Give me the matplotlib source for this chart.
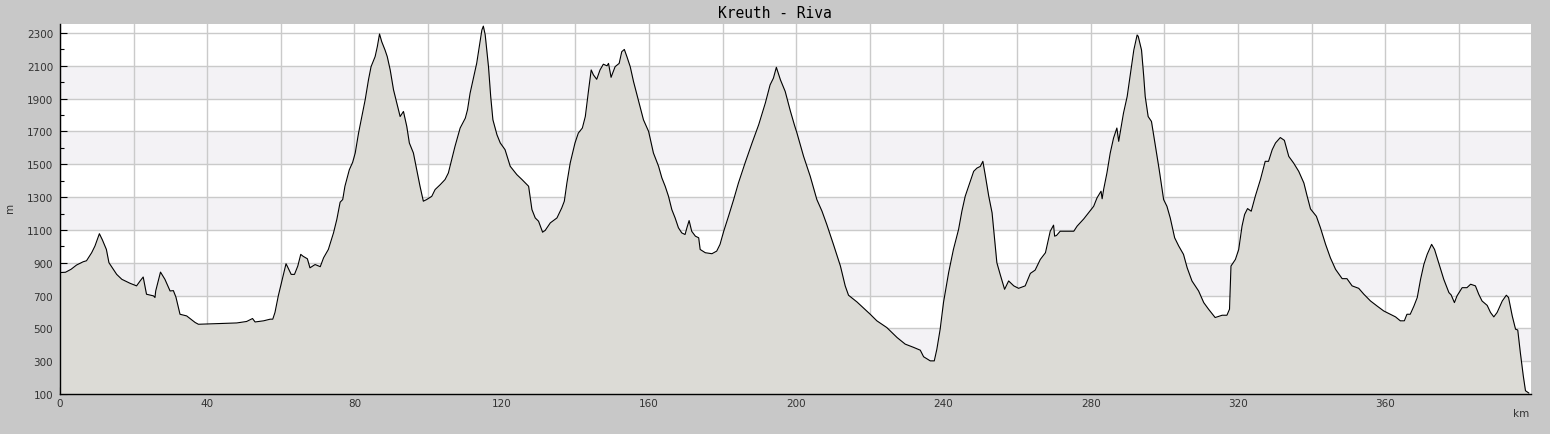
import matplotlib
matplotlib.use("Agg")
import matplotlib.pyplot as plt
from matplotlib.ticker import MultipleLocator, FuncFormatter

title = "Kreuth - Riva"
x_label = "km"
y_label = "m"

km = [0, 1.5, 3, 4.5, 6.3, 7.2, 8.6, 9.5, 10.7, 11.5, 12.2, 12.6, 13.3, 15.4, 16.8, 19.0, 20.8, 21.8, 22.6,
      23.5, 25.4, 25.8, 26.0, 27.3, 28.5, 29.9, 30.8, 31.5, 32.6, 34.4, 36.7, 37.6, 43.9, 48, 50.7, 52.3, 53,
      55.3, 57.1, 57.8, 58.4, 59.3, 60.5, 61.4, 61.8, 62.8, 63.7, 64.6, 65.4,
      66, 67.2, 67.9, 69.3, 70.7, 71.6, 72.9, 74.3, 75.2, 76.1, 76.8, 77.4, 78.6, 79.5, 80.2, 81.1, 82.0,
      82.9, 83.8, 84.5, 85.6, 86.2, 86.8, 87.4, 88.3, 88.9, 89.7, 90.6, 91.5, 92.4, 93.3, 94.2, 94.9, 96.0,
      96.9, 97.8, 98.7, 99.6, 101, 101.9, 103.3, 104.6, 105.5, 106.4, 107.3, 108.7, 110.1, 110.7, 111.4,
      112.3, 113.2, 113.9, 114.6, 115.0, 115.5, 116.4, 117.0, 117.6, 118.7, 119.6, 120.9, 122.3, 124.1,
      125.5, 127.3, 128.2, 129.1, 130.0, 131.1,
      131.8, 133.2, 135.0, 136.3, 137.0, 137.7, 138.6, 139.9, 140.8, 141.9, 142.7, 143.6, 144.3, 144.9,
      145.8, 146.7, 147.6, 148.6, 149.0, 149.7, 150.8, 151.9, 152.6, 153.3, 154.0, 154.9, 155.8, 157.1,
      158.5, 159.9, 161.2, 162.6, 163.5, 164.4, 165.3, 166.2, 167.1, 168.0, 168.9, 169.8, 170.3, 170.9,
      171.6, 172.6, 173.5, 173.9, 175.3, 177.1, 178.4, 179.3, 180.3, 181.6, 183.0, 184.3, 186.1, 188.0,
      189.8, 191.6, 192.9, 193.8, 194.6, 195.7, 197.0, 198.4, 199.5,
      200.2, 202.0, 203.8, 205.6, 207.0, 208.3, 210.1, 212.0, 213.3, 214.2, 216.5, 220.1, 221.9, 224.6,
      227.4, 229.6, 231.9, 233.7, 234.6, 236.4, 237.5, 238.2, 239.1, 240.0, 241.4, 242.7, 244.1, 245.0,
      245.9, 247.3, 248.2, 249.1, 250.0, 250.7, 251.4, 252.3, 253.2, 253.8, 254.5, 255.4, 256.6, 257.7,
      259.1, 260.4, 262.2, 263.6, 264.9, 266.3, 267.7, 269.0, 269.9, 270.2, 270.7, 271.7, 275.4, 276.3,
      278.1, 279.4, 280.8, 281.7, 282.8, 283.1, 283.5, 284.4, 285.3, 286.2, 287.1, 287.6, 288.3, 288.9,
      289.9, 290.8, 291.7, 292.6, 292.9, 293.8, 294.4, 294.8, 295.6, 296.5, 297.6, 298.6, 299.8, 300.7,
      301.6, 302.8, 303.9, 305.2, 306.2, 307.5, 309.3, 310.7, 312.0, 313.8, 315.7, 317.0, 317.7, 318.1,
      319.3, 320.2, 321.1, 321.8, 322.6, 323.6, 324.7, 326.1, 327.4, 328.3, 329.3, 330.2, 331.5, 332.6,
      333.8, 335.1, 336.5, 337.9, 338.8, 339.7, 341.3, 342.4, 343.8, 345.1, 346.5, 348.3, 349.6, 351.0,
      352.8, 354.2, 356.0, 357.8, 359.6, 361.4, 362.8, 364.1, 365.2, 365.9, 366.8, 367.8, 368.7, 369.6,
      370.5, 371.4, 372.6, 373.4, 374.5, 375.9, 377.3, 377.9, 378.8, 379.5, 380.9, 382.2, 383.2, 384.5,
      385.4, 386.3, 387.7, 388.6, 389.5, 390.4, 391.8, 392.9, 393.5, 394.5, 395.4, 396.0, 396.7, 397.5,
      398.1, 399.0]

elev = [840, 842, 860, 886, 906, 912, 961, 1002, 1077, 1040, 1002, 981, 900, 829, 799, 775, 759, 790, 813,
        708, 698, 688, 728, 843, 799, 728, 730, 690, 586, 576, 536, 525, 530, 533, 542, 560, 539,
        546, 556, 556, 597, 698, 809, 894, 876, 829, 829, 880, 951,
        940, 924, 869, 889, 876, 930, 981, 1082, 1164, 1269, 1285, 1366, 1467, 1512, 1569, 1690, 1791,
        1893, 2015, 2095, 2156, 2217, 2294, 2247, 2196, 2156, 2075, 1954, 1873, 1791, 1822, 1731, 1630, 1569,
        1467, 1366, 1275, 1285, 1305, 1346, 1376, 1407, 1447, 1528, 1609, 1721, 1781, 1832, 1933,
        2025, 2116, 2217, 2318, 2342, 2290, 2095, 1913, 1771, 1680, 1630, 1589, 1488, 1437,
        1407, 1366, 1224, 1173, 1153, 1086,
        1097, 1143, 1173, 1234, 1275, 1386, 1508, 1630, 1690, 1721, 1791, 1954, 2075, 2045,
        2018, 2075, 2110, 2100, 2115, 2030, 2095, 2115, 2186, 2200, 2156, 2095, 2004, 1893,
        1771, 1700, 1569, 1488, 1417, 1366, 1305, 1224, 1173, 1113, 1082, 1072, 1113, 1157,
        1092, 1062, 1052, 981, 961, 955, 971, 1012, 1092, 1183, 1285, 1386, 1508, 1630,
        1741, 1873, 1984, 2025, 2091, 2015, 1944, 1825, 1740,
        1690, 1548, 1427, 1285, 1214, 1133, 1012, 880, 759, 702, 661, 586, 546, 505,
        444, 404, 384, 367, 327, 302, 302, 373, 495, 657, 840, 981, 1103, 1214,
        1305, 1397, 1457, 1477, 1487, 1518, 1427, 1305, 1204, 1062, 900, 829, 738, 789,
        759, 744, 759, 835, 855, 920, 961, 1092, 1129, 1062, 1066, 1092, 1092, 1123,
        1167, 1204, 1244, 1295, 1336, 1290, 1346, 1447, 1569, 1660, 1721, 1640, 1731, 1812,
        1913, 2055, 2196, 2288, 2280, 2196, 2035, 1913, 1791, 1761, 1609, 1467, 1285, 1244,
        1173, 1052, 1002, 951, 869, 789, 728, 657, 617, 566, 580, 580, 617, 880,
        920, 981, 1123, 1194, 1230, 1214, 1305, 1407, 1518, 1518, 1589, 1630, 1663, 1646,
        1548, 1508, 1457, 1386, 1305, 1228, 1183, 1113, 1012, 930, 860, 803, 803, 759,
        744, 708, 667, 636, 606, 586, 570, 546, 546, 586, 586, 636, 688, 799,
        890, 951, 1012, 981, 900, 799, 718, 704, 657, 698, 748, 748, 769, 759,
        708, 667, 640, 597, 570, 597, 667, 702, 688, 576, 495, 490, 353, 211,
        120, 106]

x_min, x_max = 0, 399.6
y_min, y_max = 100, 2355
y_grid = list(range(100, 2400, 200))

bg = "#c8c8c8"
band = "#f3f2f5"
fill = "#dcdbd6"
grid_c = "#cacaca"
txt = "#333333"

fig = plt.figure(figsize=(15.5, 4.35), dpi=100, facecolor=bg)
ax = fig.add_axes([60 / 1550, 40 / 435, (1531 - 60) / 1550, (395 - 25) / 435])
ax.set_facecolor("white")

for i in range(len(y_grid) - 1):
    lo, hi = y_grid[i], y_grid[i + 1]
    if (i % 2) == 1:
        ax.axhspan(lo, hi, color=band, zorder=0, lw=0)

ax.set_xlim(x_min, x_max)
ax.set_ylim(y_min, y_max)

ax.xaxis.set_major_locator(MultipleLocator(20))
ax.xaxis.set_minor_locator(MultipleLocator(10))
ax.xaxis.set_major_formatter(FuncFormatter(lambda v, p: f"{int(round(v))}" if int(round(v)) % 40 == 0 else ""))
ax.set_yticks(y_grid)
ax.yaxis.set_minor_locator(MultipleLocator(100))

ax.grid(True, which="major", color=grid_c, lw=1.0, zorder=1)
ax.set_axisbelow(True)

ax.fill_between(km, elev, y_min, color=fill, lw=0, zorder=2)
ax.plot(km, elev, color="black", lw=0.8, zorder=3)

for s in ["top", "right"]:
    ax.spines[s].set_visible(False)
for s in ["left", "bottom"]:
    ax.spines[s].set_color("black")
    ax.spines[s].set_linewidth(1.0)
    ax.spines[s].set_zorder(4)

ax.tick_params(which="both", direction="in", colors="black", labelcolor=txt, labelsize=7.5, width=0.8)
ax.tick_params(which="major", length=5)
ax.tick_params(which="minor", length=3)
ax.tick_params(axis="y", pad=5)
ax.tick_params(axis="x", pad=3)

fig.text(775 / 1550, 1 - 14 / 435, title, ha="center", va="center",
         family="DejaVu Sans Mono", fontsize=10.5, color="black")
fig.text(10 / 1550, 1 - 208 / 435, y_label, ha="center", va="center", rotation=90,
         fontsize=7.5, color=txt)
fig.text(1521 / 1550, 1 - 414 / 435, x_label, ha="center", va="center",
         fontsize=7.5, color=txt)

fig.savefig("out.png", dpi=100, facecolor=bg)
